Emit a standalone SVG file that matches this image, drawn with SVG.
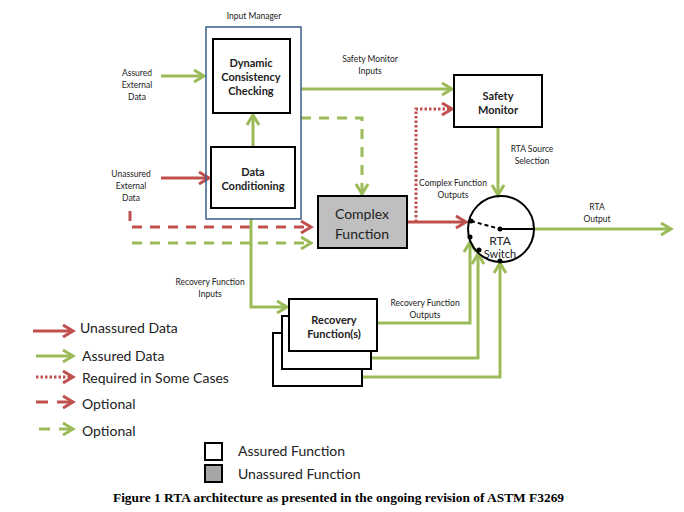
<svg xmlns="http://www.w3.org/2000/svg" width="684" height="512" viewBox="0 0 684 512">
<defs>
<marker id="ag" markerUnits="userSpaceOnUse" markerWidth="14" markerHeight="16" refX="11" refY="7" orient="auto" overflow="visible"><path d="M1,1 L11,7 L1,13" fill="none" stroke="#9BBB59" stroke-width="3"/></marker>
<marker id="ar" markerUnits="userSpaceOnUse" markerWidth="14" markerHeight="16" refX="11" refY="7" orient="auto" overflow="visible"><path d="M1,1 L11,7 L1,13" fill="none" stroke="#C0504D" stroke-width="3"/></marker>
<style>
.g{fill:none;stroke:#9BBB59;stroke-width:3}
.r{fill:none;stroke:#C0504D;stroke-width:3}
.gd{stroke-dasharray:10 8}
.rdot{stroke-dasharray:2.5 2}
.box{fill:#fff;stroke:#000;stroke-width:2}
.t{font-family:Lato,"Open Sans",sans-serif;fill:#222;dominant-baseline:central;text-anchor:middle}
.s{font-size:8.5px}
.b{font-size:11px;font-weight:bold}
.l{font-size:14px;text-anchor:start}
</style>
</defs>
<rect width="684" height="512" fill="#fff"/>

<g id="connectors">
<path class="g" d="M161,76 H204" marker-end="url(#ag)"/>
<path class="r" d="M161,178 H209" marker-end="url(#ar)"/>
<path class="g" d="M253,147 V115" marker-end="url(#ag)"/>
<path class="g" d="M301,89 H452" marker-end="url(#ag)"/>
<path class="g gd" d="M301,118 H362 V194" marker-end="url(#ag)"/>
<path class="r gd" d="M130,211 V227 H311" marker-end="url(#ar)"/>
<path class="g gd" d="M132,243 H311" marker-end="url(#ag)"/>
<path class="g" d="M251,219 V307 H287" marker-end="url(#ag)"/>
<path class="r rdot" d="M416,222 V109 H452" marker-end="url(#ar)"/>
<path class="r" d="M407,222 H466" marker-end="url(#ar)"/>
<path class="g" d="M498,127 V195" marker-end="url(#ag)"/>
<path class="g" d="M535,229 H671" marker-end="url(#ag)"/>
<path class="g" d="M377,323 H470 V242" marker-end="url(#ag)"/>
<path class="g" d="M371,358 H478 V254" marker-end="url(#ag)"/>
<path class="g" d="M362,377 H500 V263" marker-end="url(#ag)"/>
</g>

<g id="input-manager">
<rect x="206" y="27" width="95" height="192" fill="none" stroke="#385D8A" stroke-width="1.5"/>
<text class="t s" x="254" y="16">Input Manager</text>
</g>
<g id="dcc">
<rect class="box" x="213" y="39" width="77" height="74"/>
<text class="t b" x="251" y="62">Dynamic</text>
<text class="t b" x="251" y="76">Consistency</text>
<text class="t b" x="251" y="90">Checking</text>
</g>
<g id="data-conditioning">
<rect class="box" x="211" y="147" width="84" height="61"/>
<text class="t b" x="253" y="171">Data</text>
<text class="t b" x="253" y="185">Conditioning</text>
</g>
<g id="complex-function">
<rect x="318" y="196" width="89" height="52" fill="#BFBFBF" stroke="#000" stroke-width="2"/>
<text class="t" style="font-size:14px" x="362" y="213">Complex</text>
<text class="t" style="font-size:14px" x="362" y="233">Function</text>
</g>
<g id="safety-monitor">
<rect class="box" x="454" y="75" width="88" height="52"/>
<text class="t b" x="498" y="95">Safety</text>
<text class="t b" x="498" y="109">Monitor</text>
</g>
<g id="recovery">
<rect class="box" x="273" y="333" width="89" height="53"/>
<rect class="box" x="282" y="316" width="89" height="53"/>
<rect class="box" x="289" y="299" width="88" height="52"/>
<text class="t b" x="334" y="319">Recovery</text>
<text class="t b" x="334" y="333">Function(s)</text>
</g>
<g id="rta-switch">
<circle cx="501" cy="229" r="33" fill="none" stroke="#000" stroke-width="2"/>
<line x1="471" y1="221" x2="500" y2="229" stroke="#000" stroke-width="2" stroke-dasharray="4 3"/>
<line x1="500" y1="229" x2="535" y2="229" stroke="#000" stroke-width="2"/>
<circle cx="471" cy="221" r="2.5" fill="#000"/>
<circle cx="500" cy="229" r="2.5" fill="#000"/>
<circle cx="470" cy="237" r="2.5" fill="#000"/>
<circle cx="479" cy="250" r="2.5" fill="#000"/>
<circle cx="500" cy="261" r="2.5" fill="#000"/>
<text class="t" style="font-size:12px" x="500" y="240">RTA</text>
<text class="t" style="font-size:11px" x="500" y="253">Switch</text>
</g>

<g id="labels">
<text class="t s" x="137" y="73">Assured</text>
<text class="t s" x="137" y="85">External</text>
<text class="t s" x="137" y="97">Data</text>
<text class="t s" x="131" y="174">Unassured</text>
<text class="t s" x="131" y="186">External</text>
<text class="t s" x="131" y="198">Data</text>
<text class="t s" x="370" y="59">Safety Monitor</text>
<text class="t s" x="370" y="71">Inputs</text>
<text class="t s" x="532" y="149">RTA Source</text>
<text class="t s" x="532" y="161">Selection</text>
<text class="t s" x="453" y="183">Complex Function</text>
<text class="t s" x="453" y="195">Outputs</text>
<text class="t s" x="597" y="207">RTA</text>
<text class="t s" x="597" y="219">Output</text>
<text class="t s" x="210" y="282">Recovery Function</text>
<text class="t s" x="210" y="294">Inputs</text>
<text class="t s" x="425" y="303">Recovery Function</text>
<text class="t s" x="425" y="315">Outputs</text>
</g>

<g id="legend">
<path class="r" d="M33,331 H73" marker-end="url(#ar)"/>
<path class="g" d="M36,356 H73" marker-end="url(#ag)"/>
<path class="r rdot" d="M36,377 H73" marker-end="url(#ar)"/>
<path class="r" d="M36,402 H48 M57,402 H73" marker-end="url(#ar)"/>
<path class="g" d="M39,429 H50 M59,429 H73" marker-end="url(#ag)"/>
<text class="t l" x="80" y="327">Unassured Data</text>
<text class="t l" x="82" y="355">Assured Data</text>
<text class="t l" x="82" y="377">Required in Some Cases</text>
<text class="t l" x="82" y="403">Optional</text>
<text class="t l" x="82" y="430">Optional</text>
<rect x="205" y="443" width="17" height="17" fill="#fff" stroke="#000" stroke-width="2"/>
<rect x="205" y="465" width="17" height="17" fill="#A6A6A6" stroke="#000" stroke-width="2"/>
<text class="t l" x="238" y="450">Assured Function</text>
<text class="t l" x="238" y="473">Unassured Function</text>
</g>
<text x="338.5" y="502" text-anchor="middle" font-family="'Liberation Serif',serif" font-weight="bold" font-size="13.4" fill="#000">Figure 1 RTA architecture as presented in the ongoing revision of ASTM F3269</text>
</svg>
